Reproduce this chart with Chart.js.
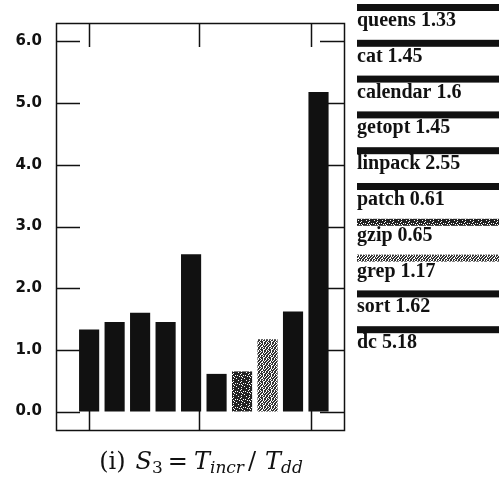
<!DOCTYPE html>
<html>
<head>
<meta charset="utf-8">
<script src="https://cdn.jsdelivr.net/npm/chart.js@4.4.0/dist/chart.umd.min.js"></script>
<style>
  body { margin: 0; background: #fff; }
  #wrap { width: 504px; height: 484px; }
</style>
</head>
<body>
<div id="wrap"><canvas id="speedupChart" width="504" height="484"></canvas></div>
<script>
// data
const programs = ['queens', 'cat', 'calendar', 'getopt', 'linpack', 'patch', 'gzip', 'grep', 'sort', 'dc'];
const speedups = [1.33, 1.45, 1.6, 1.45, 2.55, 0.61, 0.65, 1.17, 1.62, 5.18];
const legendValues = ['1.33', '1.45', '1.6', '1.45', '2.55', '0.61', '0.65', '1.17', '1.62', '5.18'];
const fills = ['black', 'black', 'black', 'black', 'black', 'black', 'dark', 'light', 'black', 'black'];
const yTicks = [0, 1, 2, 3, 4, 5, 6];
const xTicks = [1, 5.33, 9.7];

// stipple patterns (fixed bitmaps, 1 = white dot)
function makePattern(bits, size, ink) {
    const c = document.createElement('canvas');
    c.width = size; c.height = size;
    const g = c.getContext('2d');
    g.fillStyle = ink;
    g.fillRect(0, 0, size, size);
    g.fillStyle = '#fff';
    for (let i = 0; i < bits.length; i++) {
        if (bits[i] === '1') g.fillRect(i % size, Math.floor(i / size), 1, 1);
    }
    return g.createPattern(c, 'repeat');
}
const ctx = document.getElementById('speedupChart').getContext('2d');
const darkPat = makePattern('0100000100100000000010000100000000000010010000001000000000010100', 8, '#222');
const lightPat = makePattern('0100100110010010001001100100100101001010100100010010100100100101', 8, '#333');
const colorOf = f => f === 'dark' ? darkPat : (f === 'light' ? lightPat : '#111');
const barColors = fills.map(colorOf);

// inner ticks + frame
const frameTicks = {
    id: 'frameTicks',
    beforeDatasetsDraw(chart) {
        const { ctx, chartArea: a, scales: { x, y } } = chart;
        ctx.save();
        ctx.strokeStyle = '#111';
        ctx.lineWidth = 1.5;
        ctx.beginPath();
        yTicks.forEach(v => {
            const py = Math.round(y.getPixelForValue(v)) + 0.5;
            ctx.moveTo(a.left, py); ctx.lineTo(a.left + 24, py);
            ctx.moveTo(a.right - 24, py); ctx.lineTo(a.right, py);
        });
        xTicks.forEach(v => {
            const px = Math.round(x.getPixelForValue(v)) + 0.5;
            ctx.moveTo(px, a.top); ctx.lineTo(px, a.top + 24);
            ctx.moveTo(px, a.bottom); ctx.lineTo(px, a.bottom - 19);
        });
        ctx.stroke();
        ctx.restore();
    },
    afterDatasetsDraw(chart) {
        const { ctx, chartArea: a } = chart;
        ctx.save();
        ctx.strokeStyle = '#111';
        ctx.lineWidth = 1.5;
        ctx.strokeRect(a.left + 0.5, a.top + 0.5, a.right - a.left, a.bottom - a.top);
        ctx.restore();
    }
};

// legend on the right: swatch above label
const sideLegend = {
    id: 'sideLegend',
    afterDraw(chart) {
        const ctx = chart.ctx;
        ctx.save();
        ctx.font = 'bold 20px "Liberation Serif"';
        ctx.textBaseline = 'alphabetic';
        ctx.textAlign = 'left';
        programs.forEach((p, i) => {
            const top = 4 + i * 35.8;
            ctx.fillStyle = barColors[i];
            ctx.fillRect(357, top, 142, 7);
            ctx.fillStyle = '#111';
            ctx.fillText(p + ' ' + legendValues[i], 357, top + 22);
        });
        ctx.restore();
    }
};

// caption: (i) S3 = Tincr/ Tdd
const caption = {
    id: 'caption',
    afterDraw(chart) {
        const ctx = chart.ctx;
        const big = '24px "DejaVu Serif"', sub = '17px "DejaVu Serif"';
        // gap = space before the piece
        const parts = [
            { t: '(i)', f: big, gap: 0, dy: 0 },
            { t: 'S', f: 'italic ' + big, gap: 10, dy: 0 },
            { t: '3', f: sub, gap: 0, dy: 4 },
            { t: '=', f: big, gap: 5, dy: 0 },
            { t: 'T', f: 'italic ' + big, gap: 6, dy: 0 },
            { t: 'incr', f: 'italic ' + sub, gap: 0, dy: 4 },
            { t: '/', f: big, gap: 4, dy: 0 },
            { t: 'T', f: 'italic ' + big, gap: 9, dy: 0 },
            { t: 'dd', f: 'italic ' + sub, gap: 0, dy: 4 }
        ];
        ctx.save();
        ctx.fillStyle = '#111';
        ctx.textBaseline = 'alphabetic';
        let total = 0;
        parts.forEach(p => { ctx.font = p.f; p.w = ctx.measureText(p.t).width; total += p.gap + p.w; });
        let x = 201 - total / 2;
        parts.forEach(p => { x += p.gap; ctx.font = p.f; ctx.fillText(p.t, x, 469 + p.dy); x += p.w; });
        ctx.restore();
    }
};

new Chart(ctx, {
    type: 'bar',
    data: {
        datasets: [{
            data: programs.map((p, i) => ({ x: i + 1, y: speedups[i] })),
            backgroundColor: barColors,
            borderWidth: 0,
            categoryPercentage: 1,
            barPercentage: 0.79
        }]
    },
    options: {
        responsive: false,
        animation: false,
        layout: { padding: { left: 0, right: 160, top: 13, bottom: 54 } },
        plugins: { legend: { display: false }, tooltip: { enabled: false } },
        scales: {
            x: {
                type: 'linear',
                min: -0.3,
                max: 11,
                offset: false,
                display: false
            },
            y: {
                min: -0.3,
                max: 6.3,
                grid: { display: false, drawTicks: false },
                border: { display: false },
                afterBuildTicks(scale) { scale.ticks = yTicks.map(v => ({ value: v })); },
                afterFit(scale) { scale.width = 56; },
                ticks: {
                    padding: 14,
                    color: '#111',
                    font: { family: '"DejaVu Sans"', weight: 'bold', size: 15 },
                    callback: v => Number(v).toFixed(1)
                }
            }
        }
    },
    plugins: [frameTicks, sideLegend, caption]
});
</script>
</body>
</html>
